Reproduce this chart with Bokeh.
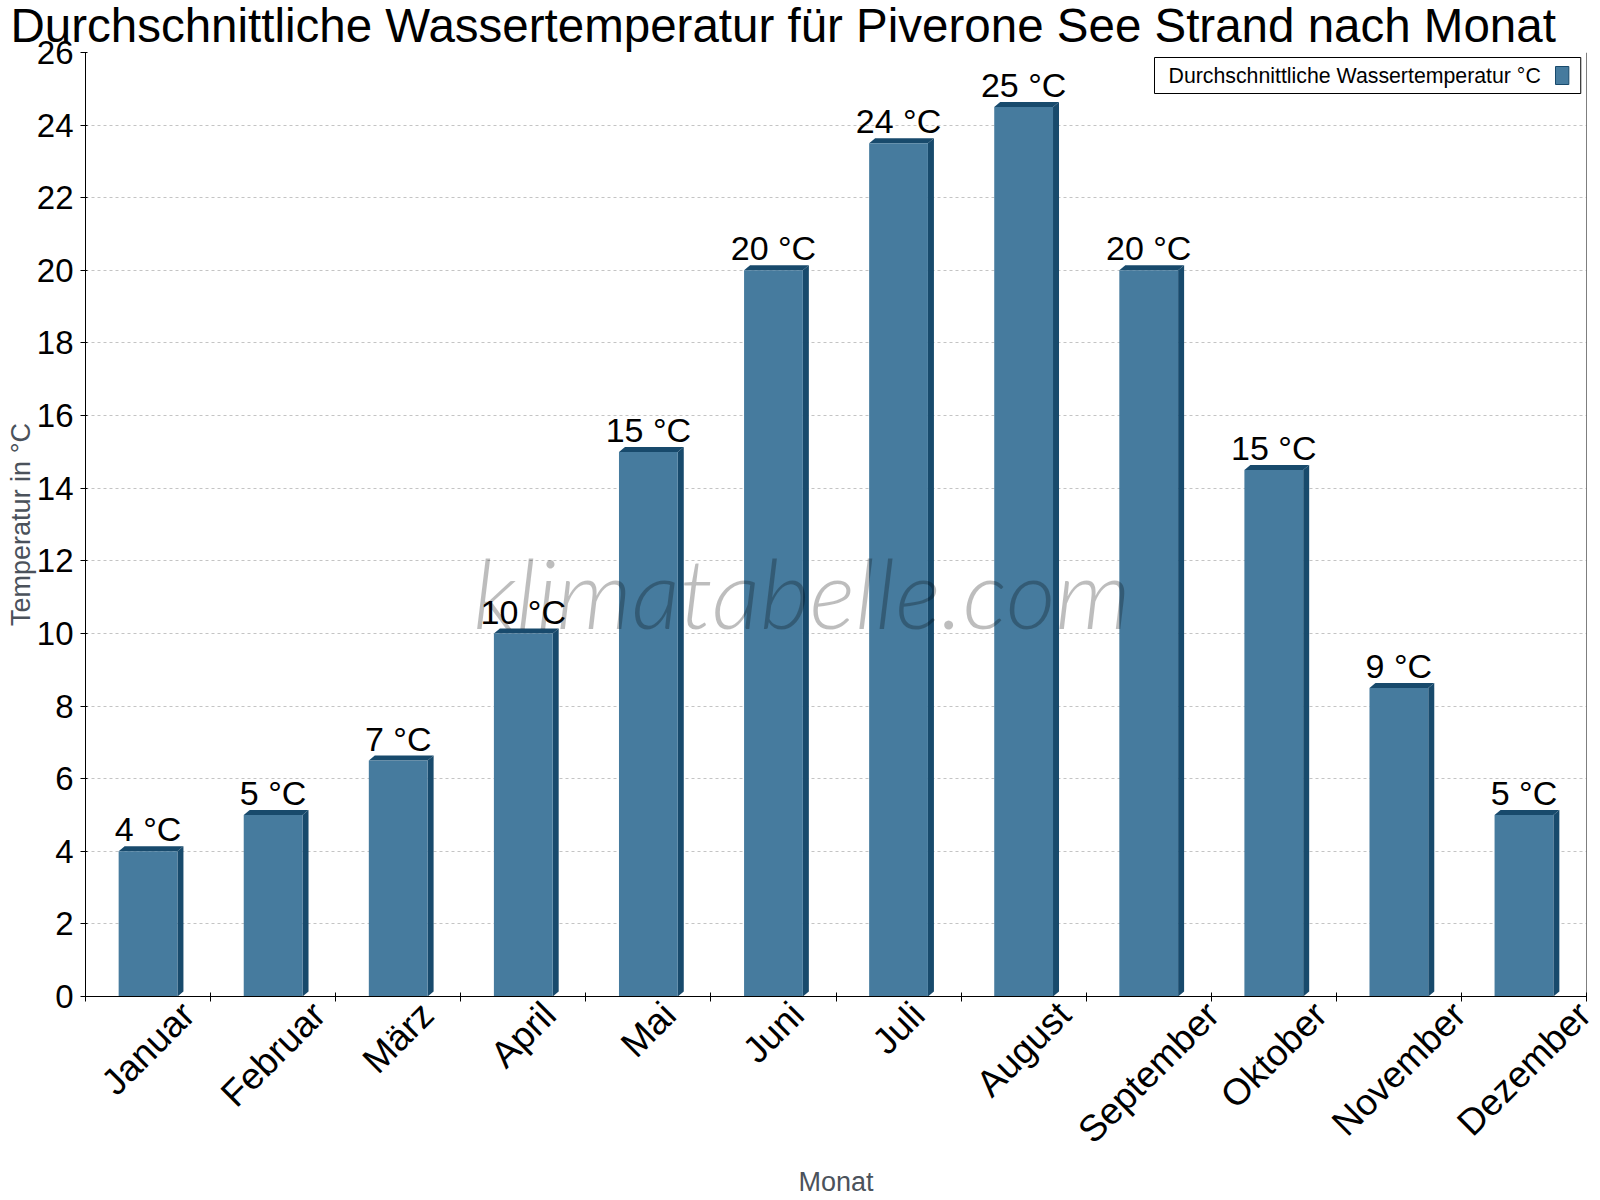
import math

from bokeh.core.properties import value
from bokeh.embed import file_html
from bokeh.models import ColumnDataSource, FixedTicker, Label, Span
from bokeh.plotting import figure
from bokeh.resources import INLINE

# Monthly mean water temperature, Piverone lake beach
months = ["Januar", "Februar", "März", "April", "Mai", "Juni",
          "Juli", "August", "September", "Oktober", "November", "Dezember"]
water_temp = [4, 5, 6.5, 10, 15, 20, 23.5, 24.5, 20, 14.5, 8.5, 5]
y_ticks = list(range(0, 27, 2))

FONT = "Liberation Sans"
FRONT = "#467b9e"
DARK = "#184a6c"
AXIS_GREY = "#4b525b"

Y_MAX = 26
N = len(months)
FRAME_W = 1501
FRAME_H = 944
PX_X = N / FRAME_W        # data units per pixel, x
PX_Y = Y_MAX / FRAME_H    # data units per pixel, y
BAR_W = 0.47              # front face width, in category units
DEPTH_X, DEPTH_Y = 6, 5   # pseudo-3D depth, pixels

MONTH_FONT_PX = 37
# advance widths of Liberation Sans / Arial, per 1000 em
ADV = {"J": 500, "a": 556, "n": 556, "u": 556, "r": 333, "F": 611, "e": 556,
       "b": 556, "M": 833, "ä": 556, "z": 500, "A": 667, "p": 556, "i": 222,
       "l": 222, "o": 556, "t": 278, "O": 778, "k": 500, "N": 722, "v": 500,
       "m": 833, "D": 722, "S": 667, "g": 556, "s": 500}


def text_width(s, size):
    return sum(ADV.get(ch, 556) for ch in s) * size / 1000


p = figure(width=1600, height=1200, output_backend="svg", toolbar_location=None,
           x_range=(0, N), y_range=(0, Y_MAX),
           min_border_left=85, min_border_right=14,
           min_border_top=52, min_border_bottom=204)
p.background_fill_color = "white"
p.border_fill_color = "white"
p.outline_line_color = None

centers = [i + 0.5 for i in range(N)]
dx = DEPTH_X * PX_X
dy = DEPTH_Y * PX_Y

# top and side faces of each bar
top_xs, top_ys, side_xs, side_ys = [], [], [], []
for c, v in zip(centers, water_temp):
    x0, x1 = c - BAR_W / 2, c + BAR_W / 2
    top_xs.append([x0, x0 + dx, x1 + dx, x1])
    top_ys.append([v, v + dy, v + dy, v])
    side_xs.append([x1, x1 + dx, x1 + dx, x1])
    side_ys.append([v, v + dy, dy, 0])

p.patches(top_xs, top_ys, fill_color=DARK, line_color=None)
p.patches(side_xs, side_ys, fill_color=DARK, line_color=None)

src = ColumnDataSource(dict(
    x=centers, top=water_temp,
    label=[f"{int(math.floor(v + 0.5))} °C" for v in water_temp],
))
p.vbar(x="x", top="top", width=BAR_W, source=src, fill_color=FRONT, line_color=None)

VALUE_FONT_PX = 34
p.text(x="x", y="top", text="label", source=src, text_align="center",
       text_baseline="middle", y_offset=-(10 + 0.35 * VALUE_FONT_PX),
       text_font=value(FONT), text_font_size=f"{VALUE_FONT_PX}px", text_color="black")

# watermark
p.add_layout(Label(x=N / 2, y=11.15, x_offset=-34, text="klimatabelle.com",
                   text_align="center", text_baseline="middle",
                   text_font="Lato Light, Roboto Light, Liberation Sans",
                   text_font_style="italic", text_font_size="96.5px",
                   text_color="black", text_alpha=0.26))

# right frame edge
p.add_layout(Span(location=N, dimension="height", line_color="black", line_width=1))

# x axis: boundary ticks as minor ticks; each month name is anchored so that
# its rotated box sits centred under its bar
label_pos = [round(c + 0.707 * text_width(m, MONTH_FONT_PX) / 2 * PX_X, 4)
             for c, m in zip(centers, months)]
xa = p.xaxis[0]
xa.ticker = FixedTicker(ticks=label_pos, minor_ticks=list(range(N + 1)))
xa.major_label_overrides = {t: m for t, m in zip(label_pos, months)}
xa.major_tick_line_color = None
xa.major_tick_in = 0
xa.major_tick_out = 5
xa.minor_tick_line_color = "black"
xa.minor_tick_in = 4
xa.minor_tick_out = 5
xa.major_label_orientation = math.pi / 4
xa.major_label_standoff = 7
xa.major_label_text_font = FONT
xa.major_label_text_font_size = f"{MONTH_FONT_PX}px"
xa.major_label_text_color = "black"
xa.axis_line_color = "black"
xa.axis_label = "Monat"
xa.axis_label_text_font = FONT
xa.axis_label_text_font_size = "27px"
xa.axis_label_text_font_style = "normal"
xa.axis_label_text_color = AXIS_GREY
xa.axis_label_standoff = -1

ya = p.yaxis[0]
ya.ticker = FixedTicker(ticks=y_ticks)
ya.major_tick_in = 2
ya.major_tick_out = 5
ya.major_tick_line_color = "black"
ya.minor_tick_line_color = None
ya.major_label_standoff = 7
ya.major_label_text_font = FONT
ya.major_label_text_font_size = "33px"
ya.major_label_text_color = "black"
ya.axis_line_color = "black"
ya.axis_label = "Temperatur in °C"
ya.axis_label_text_font = FONT
ya.axis_label_text_font_size = "27px"
ya.axis_label_text_font_style = "normal"
ya.axis_label_text_color = AXIS_GREY
ya.axis_label_standoff = -2

p.xgrid.grid_line_color = None
p.ygrid.grid_line_color = "#c4c4c4"
p.ygrid.grid_line_dash = "3 3"
p.ygrid.grid_line_width = 1

p.title.text = "Durchschnittliche Wassertemperatur für Piverone See Strand nach Monat"
p.title.text_font = FONT
p.title.text_font_size = "47.5px"
p.title.text_font_style = "normal"
p.title.text_color = "black"
p.title.align = "left"
p.title.offset = -75
p.title.vertical_align = "top"
p.title.standoff = -3

# legend box with the swatch on the right
p.add_layout(Label(x=N, y=Y_MAX, x_offset=-432, y_offset=-23,
                   text="Durchschnittliche Wassertemperatur °C",
                   text_align="left", text_baseline="middle",
                   text_font=FONT, text_font_size="21.3px", text_color="black",
                   background_fill_color="white", border_line_color="black",
                   border_line_width=1,
                   padding=dict(left=14, right=40, top=6, bottom=6)))
p.add_layout(Label(x=N, y=Y_MAX, x_offset=-31, y_offset=-23, text=" ",
                   text_align="left", text_baseline="middle",
                   text_font=FONT, text_font_size="12px",
                   background_fill_color=FRONT, border_line_color=DARK,
                   border_line_width=1,
                   padding=dict(left=5, right=5, top=2, bottom=2)))

open("out.html", "w").write(file_html(p, INLINE))
